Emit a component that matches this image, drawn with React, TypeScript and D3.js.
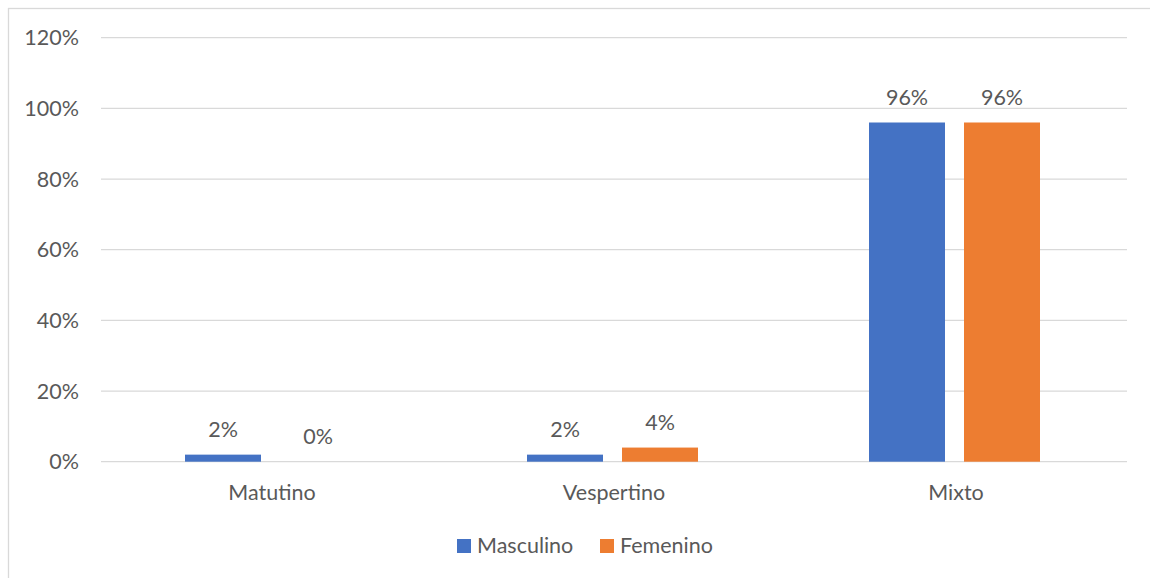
import React from "react";
import * as d3 from "d3";

const categories = ["Matutino", "Vespertino", "Mixto"];
const seriesNames = ["Masculino", "Femenino"];
const masculino = [2, 2, 96];
const femenino = [0, 4, 96];
const yTicks = [0, 20, 40, 60, 80, 100, 120];
const colors = ["#4472C4", "#ED7D31"];

const W = 1150;
const H = 578;
const FONT = "Lato, 'Open Sans', sans-serif";
const TXT = "#595959";
const FS = 21.5;

export default function App() {
  const left = 101;
  const right = 1127;
  const top = 37.7;
  const bottom = 461.7;
  const y = d3.scaleLinear().domain([0, 120]).range([bottom, top]);
  const x0 = d3.scaleBand<string>().domain(categories).range([left, right]).paddingInner(0.5).paddingOuter(0.25);
  const x1 = d3.scaleBand<string>().domain(seriesNames).range([0, x0.bandwidth()]).paddingInner(0.2);
  const values = [masculino, femenino];

  return (
    <svg width={W} height={H} style={{ position: "absolute", left: 0, top: 0 }} fontFamily={FONT}>
      <rect x={0} y={0} width={W} height={H} fill="#fff" />
      <rect x={8.5} y={8.5} width={W + 20} height={H + 20} fill="none" stroke="#d9d9d9" strokeWidth={1.3} />
      {yTicks.map((t) => (
        <g key={t}>
          <line x1={left} x2={right} y1={y(t)} y2={y(t)} stroke="#d9d9d9" strokeWidth={1.3} />
          <text x={79} y={y(t)} dy="0.35em" textAnchor="end" fontSize={FS} fill={TXT}>
            {t}%
          </text>
        </g>
      ))}
      {categories.map((c, ci) => (
        <g key={c}>
          {seriesNames.map((s, si) => {
            const v = values[si][ci];
            const bx = (x0(c) as number) + (x1(s) as number) - 1.5;
            return (
              <g key={s}>
                <rect x={bx} y={y(v)} width={x1.bandwidth()} height={bottom - y(v)} fill={colors[si]} />
                <text x={bx + x1.bandwidth() / 2} y={y(v) - 18} textAnchor="middle" fontSize={FS} fill={TXT}>
                  {v}%
                </text>
              </g>
            );
          })}
          <text x={(x0(c) as number) + x0.bandwidth() / 2} y={500} textAnchor="middle" fontSize={FS} fill={TXT}>
            {c}
          </text>
        </g>
      ))}
      {seriesNames.map((s, si) => {
        const lx = si === 0 ? 457 : 600;
        return (
          <g key={s}>
            <rect x={lx} y={539} width={14} height={14} fill={colors[si]} />
            <text x={lx + 20} y={553} fontSize={FS} fill={TXT}>
              {s}
            </text>
          </g>
        );
      })}
    </svg>
  );
}
